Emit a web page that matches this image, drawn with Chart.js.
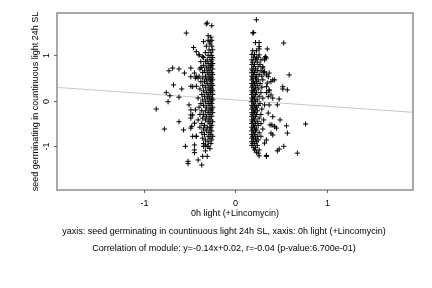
<!DOCTYPE html>
<html>
<head>
<meta charset="utf-8">
<script src="https://cdn.jsdelivr.net/npm/chart.js@4/dist/chart.umd.min.js"></script>
<style>
  html, body { margin: 0; padding: 0; background: #fff; }
  #contenedor { width: 432px; height: 288px; }
</style>
</head>
<body>
<div id="contenedor"><canvas id="grafico" width="432" height="288"></canvas></div>
<script>
// puntos del grupo izquierdo (x, y)
var grupoIzq = [
    [-0.54,1.49],[-0.46,1.17],[-0.32,1.69],[-0.31,1.71],[-0.26,1.65],[-0.30,1.43],[-0.35,1.30],[-0.28,1.30],
    [-0.73,0.66],[-0.69,0.72],[-0.62,0.70],[-0.56,0.61],[-0.68,0.35],[-0.59,0.26],[-0.76,0.18],[-0.72,0.11],
    [-0.62,0.08],[-0.74,-0.02],[-0.87,-0.18],[-0.62,-0.46],[-0.78,-0.62],[-0.57,-0.64],[-0.55,-1.00],[-0.52,-1.33],
    [-0.52,-1.38],[-0.37,-1.41],[-0.41,-1.30],[-0.45,-1.08],[-0.45,-1.14],[-0.47,-0.78],[-0.43,-0.78],[-0.49,-0.60],
    [-0.49,-0.38],[-0.49,-0.31],[-0.44,-0.20],[-0.49,0.32],[-0.43,0.32],[-0.49,0.53],[-0.44,0.50],[-0.38,0.73],
    [-0.37,0.73],[-0.40,1.01],[-0.36,0.97],[-0.35,-1.00],[-0.33,-0.97],[-0.30,-1.00],[-0.31,-1.22],[-0.36,-1.22],
    [-0.51,-0.09],[-0.49,-0.20],[-0.47,-0.31],[-0.45,-0.49],[-0.48,-0.56],[-0.43,-0.78],[-0.45,-0.97],[-0.43,1.08],
    [-0.40,1.01],[-0.49,0.72],[-0.45,0.61],[-0.43,0.53],[-0.41,0.50],[-0.47,0.31],
    [-0.27,1.40],[-0.30,1.33],[-0.26,1.33],[-0.28,1.25],[-0.32,1.20],[-0.26,1.20],[-0.29,1.12],[-0.25,1.12],
    [-0.33,1.06],[-0.27,1.06],[-0.30,1.00],[-0.26,1.00],[-0.35,0.95],[-0.28,0.95],[-0.25,0.95],[-0.31,0.90],
    [-0.26,0.90],[-0.38,0.86],[-0.33,0.86],[-0.27,0.86],[-0.30,0.82],[-0.25,0.82],[-0.35,0.78],[-0.28,0.78],
    [-0.26,0.78],[-0.32,0.74],[-0.27,0.74],[-0.39,0.70],[-0.30,0.70],[-0.25,0.70],[-0.34,0.66],[-0.28,0.66],
    [-0.36,0.62],[-0.31,0.62],[-0.26,0.62],[-0.29,0.58],[-0.25,0.58],[-0.40,0.54],[-0.33,0.54],[-0.27,0.54],
    [-0.36,0.50],[-0.30,0.50],[-0.26,0.50],[-0.32,0.46],[-0.28,0.46],[-0.25,0.46],[-0.38,0.42],[-0.34,0.42],
    [-0.27,0.42],[-0.31,0.38],[-0.26,0.38],[-0.36,0.34],[-0.29,0.34],[-0.25,0.34],[-0.33,0.30],[-0.27,0.30],
    [-0.39,0.26],[-0.30,0.26],[-0.26,0.26],[-0.35,0.22],[-0.28,0.22],[-0.25,0.22],[-0.32,0.18],[-0.27,0.18],
    [-0.37,0.14],[-0.30,0.14],[-0.25,0.14],[-0.34,0.10],[-0.28,0.10],[-0.41,0.06],[-0.31,0.06],[-0.26,0.06],
    [-0.36,0.02],[-0.29,0.02],[-0.25,0.02],[-0.33,-0.02],[-0.27,-0.02],[-0.38,-0.06],[-0.30,-0.06],[-0.26,-0.06],
    [-0.35,-0.10],[-0.28,-0.10],[-0.40,-0.14],[-0.32,-0.14],[-0.25,-0.14],[-0.29,-0.18],[-0.26,-0.18],[-0.37,-0.22],
    [-0.33,-0.22],[-0.27,-0.22],[-0.30,-0.26],[-0.25,-0.26],[-0.39,-0.30],[-0.35,-0.30],[-0.28,-0.30],[-0.32,-0.34],
    [-0.26,-0.34],[-0.36,-0.38],[-0.29,-0.38],[-0.41,-0.42],[-0.33,-0.42],[-0.27,-0.42],[-0.30,-0.46],[-0.25,-0.46],
    [-0.37,-0.50],[-0.28,-0.50],[-0.34,-0.54],[-0.26,-0.54],[-0.39,-0.58],[-0.31,-0.58],[-0.27,-0.58],[-0.35,-0.62],
    [-0.28,-0.62],[-0.32,-0.66],[-0.26,-0.66],[-0.37,-0.70],[-0.29,-0.70],[-0.34,-0.74],[-0.27,-0.74],[-0.30,-0.78],
    [-0.25,-0.78],[-0.36,-0.82],[-0.28,-0.82],[-0.33,-0.86],[-0.26,-0.86],[-0.30,-0.90],[-0.35,-0.94],[-0.27,-0.94],
    [-0.31,-1.00],[-0.28,-1.05],[-0.33,-1.10]
];

// puntos del grupo derecho (x, y)
var grupoDer = [
    [0.23,1.78],[0.19,1.49],[0.20,1.50],[0.22,1.28],[0.26,1.28],[0.26,1.19],[0.26,1.14],[0.35,1.14],
    [0.53,1.27],[0.59,0.57],[0.52,0.31],[0.52,0.26],[0.57,0.24],[0.48,0.04],[0.46,-0.09],[0.49,-0.42],
    [0.56,-0.55],[0.77,-0.51],[0.57,-0.71],[0.45,-0.60],[0.43,-0.57],[0.41,-0.75],[0.53,-1.00],[0.48,-1.06],
    [0.46,-1.10],[0.68,-1.15],[0.34,-1.20],[0.26,-1.21],[0.38,-0.53],[0.40,-0.53],[0.37,-0.09],[0.41,0.06],
    [0.43,0.46],[0.39,0.42],[0.35,0.39],[0.37,0.22],[0.34,0.18],[0.37,0.61],[0.34,0.57],[0.32,0.94],
    [0.33,0.97],
    [0.23,0.94],[0.26,1.01],[0.34,0.94],[0.32,0.90],[0.30,0.72],[0.32,0.64],[0.36,0.53],[0.41,0.46],
    [0.34,0.31],[0.37,0.24],[0.36,0.09],[0.39,0.13],[0.32,-0.09],[0.36,-0.27],[0.41,-0.35],[0.43,-0.56],
    [0.39,-0.71],[0.34,-0.86],[0.32,-0.93],[0.25,-1.15],[0.34,-1.22],
    [0.19,1.10],[0.23,1.10],[0.18,1.02],[0.21,1.02],[0.20,0.96],[0.25,0.96],[0.18,0.90],[0.22,0.90],
    [0.28,0.90],[0.19,0.85],[0.24,0.85],[0.18,0.80],[0.21,0.80],[0.27,0.80],[0.20,0.75],[0.25,0.75],
    [0.30,0.75],[0.18,0.70],[0.22,0.70],[0.19,0.66],[0.24,0.66],[0.28,0.66],[0.18,0.62],[0.21,0.62],
    [0.31,0.62],[0.20,0.58],[0.26,0.58],[0.18,0.54],[0.23,0.54],[0.29,0.54],[0.19,0.50],[0.22,0.50],
    [0.18,0.46],[0.25,0.46],[0.30,0.46],[0.20,0.42],[0.23,0.42],[0.18,0.38],[0.21,0.38],[0.27,0.38],
    [0.19,0.34],[0.24,0.34],[0.18,0.30],[0.22,0.30],[0.29,0.30],[0.20,0.26],[0.25,0.26],[0.18,0.22],
    [0.21,0.22],[0.19,0.18],[0.23,0.18],[0.28,0.18],[0.18,0.14],[0.22,0.14],[0.20,0.10],[0.26,0.10],
    [0.18,0.06],[0.21,0.06],[0.30,0.06],[0.19,0.02],[0.24,0.02],[0.18,-0.02],[0.22,-0.02],[0.20,-0.06],
    [0.27,-0.06],[0.18,-0.10],[0.21,-0.10],[0.25,-0.10],[0.19,-0.14],[0.23,-0.14],[0.18,-0.18],[0.22,-0.18],
    [0.29,-0.18],[0.20,-0.22],[0.24,-0.22],[0.18,-0.26],[0.21,-0.26],[0.19,-0.30],[0.23,-0.30],[0.28,-0.30],
    [0.18,-0.34],[0.22,-0.34],[0.20,-0.38],[0.26,-0.38],[0.18,-0.42],[0.21,-0.42],[0.31,-0.42],[0.19,-0.46],
    [0.24,-0.46],[0.18,-0.50],[0.22,-0.50],[0.28,-0.50],[0.20,-0.54],[0.25,-0.54],[0.18,-0.58],[0.21,-0.58],
    [0.19,-0.62],[0.23,-0.62],[0.30,-0.62],[0.18,-0.66],[0.22,-0.66],[0.20,-0.70],[0.26,-0.70],[0.18,-0.74],
    [0.21,-0.74],[0.19,-0.78],[0.24,-0.78],[0.28,-0.78],[0.18,-0.82],[0.22,-0.82],[0.20,-0.86],[0.25,-0.86],
    [0.18,-0.90],[0.23,-0.90],[0.19,-0.94],[0.21,-0.94],[0.18,-0.98],[0.24,-0.98],[0.20,-1.03],[0.22,-1.03],
    [0.21,-1.08],[0.26,-1.08],[0.23,-1.13]
];

// recta de regresion: y = pendiente * x + intercepto
var pendiente = -0.14;
var intercepto = 0.02;

var rangoX = [-1.96, 1.95];
var rangoY = [-1.96, 1.93];
var marcasX = [-1, 0, 1];
var marcasY = [-1, 0, 1];

var tituloX = '0h light (+Lincomycin)';
var tituloY = 'seed germinating in countinuous light 24h SL';
var leyenda1 = 'yaxis: seed germinating in countinuous light 24h SL, xaxis: 0h light (+Lincomycin)';
var leyenda2 = 'Correlation of module: y=-0.14x+0.02, r=-0.04 (p-value:6.700e-01)';

document.addEventListener("DOMContentLoaded", function() {
    var fuente = '9px "Liberation Sans", Arial, sans-serif';

    function aPuntos(lista) {
        return lista.map(function(p) { return { x: p[0], y: p[1] }; });
    }

    var recta = [
        { x: rangoX[0], y: pendiente * rangoX[0] + intercepto },
        { x: rangoX[1], y: pendiente * rangoX[1] + intercepto }
    ];

    var ejes = {
        id: 'ejes',
        afterDraw: function(chart) {
            var ctx = chart.ctx;
            var area = chart.chartArea;
            var sx = chart.scales.x;
            var sy = chart.scales.y;
            ctx.save();

            // marco
            ctx.strokeStyle = '#8c8c8c';
            ctx.lineWidth = 1.5;
            ctx.strokeRect(area.left, area.top, area.right - area.left, area.bottom - area.top);

            ctx.fillStyle = '#000';
            ctx.font = fuente;
            ctx.strokeStyle = '#666';
            ctx.lineWidth = 1;

            // marcas eje x
            ctx.textAlign = 'center';
            ctx.textBaseline = 'middle';
            marcasX.forEach(function(v) {
                var px = Math.round(sx.getPixelForValue(v)) + 0.5;
                ctx.beginPath();
                ctx.moveTo(px, area.bottom);
                ctx.lineTo(px, area.bottom + 3);
                ctx.stroke();
                ctx.fillText(String(v), px, area.bottom + 14);
            });

            // marcas eje y (texto girado)
            marcasY.forEach(function(v) {
                var py = Math.round(sy.getPixelForValue(v)) + 0.5;
                ctx.beginPath();
                ctx.moveTo(area.left, py);
                ctx.lineTo(area.left - 3, py);
                ctx.stroke();
                ctx.save();
                ctx.translate(area.left - 10, py);
                ctx.rotate(-Math.PI / 2);
                ctx.fillText(String(v), 0, 0);
                ctx.restore();
            });

            var centroX = (area.left + area.right) / 2;
            var centroY = (area.top + area.bottom) / 2;

            ctx.fillText(tituloX, centroX, area.bottom + 24);

            ctx.save();
            ctx.translate(area.left - 21, centroY);
            ctx.rotate(-Math.PI / 2);
            ctx.fillText(tituloY, 0, 0);
            ctx.restore();

            ctx.fillText(leyenda1, 224, area.bottom + 42);
            ctx.fillText(leyenda2, 224, area.bottom + 59);

            ctx.restore();
        }
    };

    var ctx = document.getElementById('grafico').getContext('2d');
    new Chart(ctx, {
        type: 'scatter',
        data: {
            datasets: [{
                data: aPuntos(grupoIzq),
                pointStyle: 'cross',
                pointRadius: 2.6,
                borderColor: '#000',
                borderWidth: 1
            }, {
                data: aPuntos(grupoDer),
                pointStyle: 'cross',
                pointRadius: 2.6,
                borderColor: '#000',
                borderWidth: 1
            }, {
                type: 'line',
                data: recta,
                borderColor: '#c8c8c8',
                borderWidth: 1,
                pointRadius: 0,
                fill: false
            }]
        },
        options: {
            responsive: false,
            animation: false,
            layout: { padding: { left: 57, right: 19, top: 13, bottom: 98 } },
            plugins: { legend: { display: false }, tooltip: { enabled: false } },
            scales: {
                x: { type: 'linear', display: false, min: rangoX[0], max: rangoX[1] },
                y: { type: 'linear', display: false, min: rangoY[0], max: rangoY[1] }
            }
        },
        plugins: [ejes]
    });
});
</script>
</body>
</html>
